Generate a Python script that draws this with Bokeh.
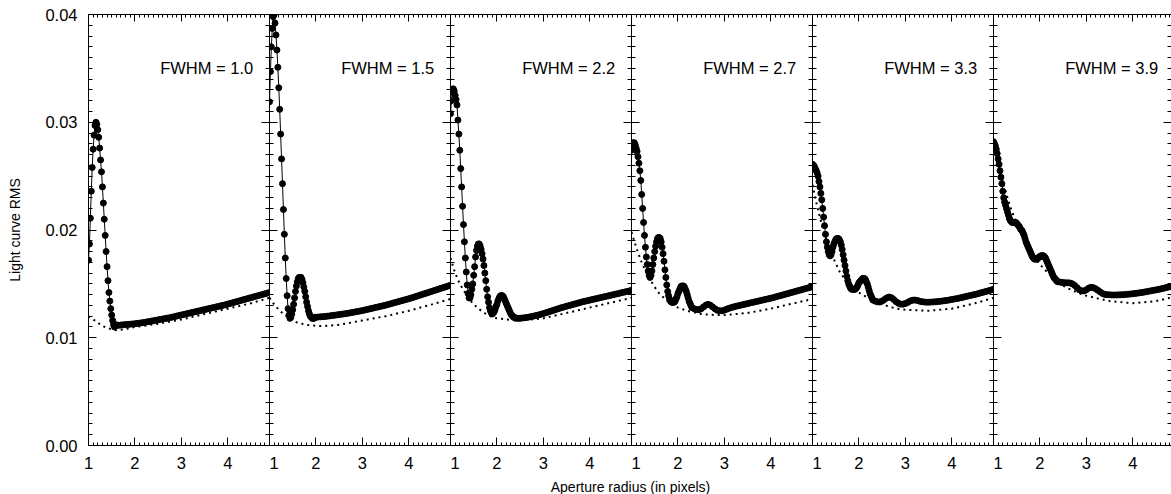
from bokeh.plotting import figure
from bokeh.layouts import gridplot, column
from bokeh.models import (Range1d, LinearAxis, SingleIntervalTicker,
                          NumeralTickFormatter, Label, CustomLabelingPolicy)
from bokeh.embed import file_html
from bokeh.resources import INLINE

# ---------------- data ----------------
fwhm = ["1.0", "1.5", "2.2", "2.7", "3.3", "3.9"]

# measured RMS: fine part sampled every 0.02 from r = 1.00,
# tail part sampled every 0.05 ending at r = 4.90
meas_fine_1 = [.0172, .0187, .0211, .0236, .0258, .0275, .0288, .0297, .0300, .0298,
               .0293, .0286, .0276, .0265, .0254, .0240, .0225, .0210, .0195, .0180,
               .0166, .0153, .0142, .0134, .0127, .0121, .0116, .0112, .0110, .0111,
               .0112]
meas_tail_1 = [.01115, .01118, .01120, .01122, .01124, .01126, .01128,
               .01130, .01133, .01136, .01139, .01142, .01146, .01150, .01154, .01158, .01162,
               .01166, .01170, .01174, .01178, .01182, .01186, .01191, .01196, .01201, .01206,
               .01211, .01216, .01221, .01226, .01231, .01236, .01241, .01246, .01251, .01256,
               .01261, .01266, .01271, .01276, .01281, .01286, .01291, .01296, .01301, .01306,
               .01312, .01318, .01324, .01330, .01336, .01342, .01348, .01354, .01360, .01366,
               .01372, .01378, .01384, .01390, .01396, .01402, .01408, .01414, .01420]

meas_fine_2 = [.0319, .0347, .0370, .0387, .0398, .0400, .0392, .0381, .0367, .0351,
               .0332, .0312, .0289, .0266, .0243, .0219, .0196, .0174, .0155, .0139,
               .0127, .0121, .0118, .0119, .0122, .0126, .0131, .0137, .0143, .0148,
               .0152, .0155, .0156, .0156, .0156, .0154, .0151, .0147, .0143, .0138,
               .0133, .0129, .0125, .0122, .0120, .0119, .0118, .0118, .0118, .0119,
               .0119]
meas_tail_2 = [.01192, .01194, .01196, .01198, .01200, .01203, .01206, .01209, .01212,
               .01215, .01218, .01221, .01224, .01228, .01232, .01236, .01240, .01244, .01248,
               .01252, .01257, .01262, .01267, .01272, .01277, .01282, .01287, .01292, .01297,
               .01302, .01308, .01314, .01320, .01326, .01332, .01338, .01344, .01350, .01356,
               .01362, .01368, .01375, .01382, .01389, .01396, .01403, .01410, .01417, .01424,
               .01431, .01438, .01445, .01452, .01459, .01466, .01473, .01480, .01487]

meas_fine_3 = [.0308, .0320, .0328, .0331, .0329, .0325, .0321, .0316, .0302, .0289,
               .0274, .0257, .0240, .0222, .0205, .0189, .0174, .0161, .0149, .0141,
               .0137, .0137, .0140, .0145, .0150, .0158, .0166, .0175, .0181, .0185,
               .0187, .0187, .0185, .0182, .0178, .0173, .0167, .0160, .0153, .0145,
               .0138, .0133, .0128, .0125, .0123, .0122, .0123, .0124, .0126, .0129,
               .0131, .0134, .0136, .0138, .0139, .0139, .0139, .0138, .0136, .0134,
               .0132, .0130, .0128, .0126, .0124, .0122, .0121, .0120, .0119, .0119,
               .0118]
meas_tail_3 = [.01180, .01181, .01183, .01186, .01189, .01193, .01197, .01202, .01207, .01212, .01218,
               .01224, .01231, .01238, .01245, .01252, .01259, .01266, .01273, .01280, .01286,
               .01292, .01298, .01304, .01310, .01316, .01322, .01328, .01334, .01339, .01344,
               .01349, .01354, .01359, .01364, .01369, .01374, .01379, .01384, .01389, .01394,
               .01399, .01404, .01409, .01414, .01419, .01424, .01429, .01434, .01440]

meas_fine_4 = [.0274, .0279, .0281, .0281, .0279, .0276, .0273, .0268, .0262, .0255,
               .0246, .0233, .0220, .0207, .0195, .0184, .0175, .0168, .0162, .0158,
               .0156, .0158, .0162, .0168, .0174, .0180, .0185, .0189, .0192, .0193,
               .0193, .0192, .0189, .0184, .0178, .0171, .0163, .0156, .0149, .0143,
               .0139, .0136, .0134, .0133, .0133, .0133, .0133, .0134, .0136, .0138,
               .0141, .0143, .0145, .0147, .0148, .0148, .0148, .0147, .0145, .0143,
               .0140, .0137, .0134, .0132, .0130, .0128]
meas_tail_4 = [.01270, .01262, .01260, .01268, .01285, .01302, .01310, .01302, .01285, .01268,
               .01255, .01250, .01250,
               .01256, .01265, .01273, .01280, .01286, .01292, .01297, .01302, .01307, .01312,
               .01317, .01322, .01327, .01332, .01337, .01342, .01347, .01352, .01357, .01362,
               .01367, .01372, .01378, .01384, .01390, .01396, .01402, .01408, .01414, .01420,
               .01426, .01432, .01438, .01444, .01450, .01456, .01462, .01468, .01475]

meas_fine_5 = [.0261, .0260, .0259, .0257, .0255, .0253, .0250, .0245, .0240, .0234,
               .0228, .0220, .0212, .0204, .0196, .0189, .0184, .0180, .0177, .0176,
               .0177, .0180, .0184, .0187, .0189, .0191, .0192, .0192, .0192, .0191,
               .0189, .0186, .0182, .0177, .0172, .0167, .0162, .0157, .0153, .0150,
               .0148, .0146, .0145, .0145, .0145, .0145, .0145, .0146, .0147, .0149,
               .0151, .0152, .0153, .0154, .0155, .0155, .0155, .0154, .0152, .0150,
               .0147, .0144, .0141, .0139, .0137, .0135]
meas_tail_5 = [.01340, .01333, .01332, .01340, .01355, .01370, .01378, .01372, .01355, .01335,
               .01320, .01312, .01312,
               .01318, .01328, .01340, .01348, .01350, .01347, .01340, .01335, .01332, .01330,
               .01330, .01331, .01332, .01334, .01336, .01338, .01341, .01344, .01347, .01351,
               .01355, .01359, .01363, .01367, .01372, .01377, .01382, .01387, .01392, .01397,
               .01402, .01407, .01413, .01419, .01425, .01431, .01437, .01443, .01450]

meas_fine_6 = [.0282, .0280, .0278, .0275, .0271, .0266, .0261, .0255, .0249, .0243,
               .0236, .0230, .0226, .0223, .0220, .0217, .0214, .0211, .0209, .0208,
               .0207, .0207, .0207, .0207, .0207, .0206, .0205, .0204, .0203, .0201,
               .0200, .0199, .0197, .0195, .0192, .0189, .0187, .0185, .0183, .0181,
               .0179, .0177, .0175, .0174, .0173, .0173, .0173, .0173, .0174, .0175,
               .0175, .0176, .0176, .0176, .0176, .0175, .0174, .0172, .0170, .0168,
               .0166, .0164, .0162, .0160, .0158, .0156, .0155, .0154, .0153, .0152,
               .0152]
meas_tail_6 = [.01515, .01512, .01510, .01510, .01508, .01500, .01485, .01465, .01445, .01435, .01435,
               .01445, .01460, .01468, .01465, .01455, .01440, .01425, .01410, .01402, .01400,
               .01398, .01397, .01397, .01397, .01398, .01399, .01400, .01402, .01404, .01406,
               .01408, .01411, .01414, .01417, .01420, .01424, .01428, .01432, .01436, .01440,
               .01444, .01448, .01453, .01458, .01463, .01468, .01473, .01478, .01483]

# model RMS (dotted curves)
model_r_1 = [1.0, 1.1, 1.2, 1.3, 1.4, 1.5, 1.6, 1.8, 2.0, 2.5, 3.0, 3.5, 4.0, 4.5, 4.9]
model_v_1 = [.0120, .0117, .0114, .0111, .0109, .0108, .0107, .0108, .0110, .0113, .0117, .0122, .0127, .0132, .0137]
model_r_2 = [1.0, 1.1, 1.2, 1.3, 1.4, 1.5, 1.6, 1.8, 2.0, 2.2, 2.5, 3.0, 3.5, 4.0, 4.5, 4.9]
model_v_2 = [.0137, .0131, .0126, .0122, .0119, .0116, .0114, .0112, .0111, .0111, .0112, .0116, .0120, .0125, .0131, .0136]
model_r_3 = [1.0, 1.1, 1.2, 1.3, 1.4, 1.5, 1.6, 1.8, 2.0, 2.2, 2.5, 3.0, 3.5, 4.0, 4.5, 4.9]
model_v_3 = [.0174, .0160, .0150, .0143, .0136, .0131, .0127, .0121, .0118, .0117, .0116, .0118, .0123, .0128, .0133, .0137]
model_r_4 = [1.0, 1.1, 1.2, 1.3, 1.4, 1.5, 1.6, 1.8, 2.0, 2.2, 2.5, 2.8, 3.0, 3.5, 4.0, 4.5, 4.9]
model_v_4 = [.0198, .0184, .0172, .0162, .0154, .0147, .0141, .0133, .0128, .0125, .0122, .0121, .0121, .0123, .0127, .0132, .0136]
model_r_5 = [1.0, 1.1, 1.2, 1.3, 1.4, 1.5, 1.6, 1.8, 2.0, 2.2, 2.5, 2.8, 3.0, 3.5, 4.0, 4.5, 4.9]
model_v_5 = [.0242, .0222, .0205, .0191, .0179, .0169, .0160, .0149, .0142, .0137, .0131, .0127, .0126, .0125, .0127, .0132, .0137]
model_r_6 = [1.0, 1.1, 1.2, 1.3, 1.4, 1.5, 1.6, 1.7, 1.8, 2.0, 2.2, 2.4, 2.6, 2.8, 3.0, 3.5, 4.0, 4.5, 4.9]
model_v_6 = [.0280, .0262, .0245, .0230, .0217, .0206, .0197, .0188, .0180, .0168, .0159, .0151, .0146, .0142, .0139, .0134, .0132, .0134, .0138]

panels = [
    (meas_fine_1, meas_tail_1, model_r_1, model_v_1),
    (meas_fine_2, meas_tail_2, model_r_2, model_v_2),
    (meas_fine_3, meas_tail_3, model_r_3, model_v_3),
    (meas_fine_4, meas_tail_4, model_r_4, model_v_4),
    (meas_fine_5, meas_tail_5, model_r_5, model_v_5),
    (meas_fine_6, meas_tail_6, model_r_6, model_v_6),
]

# ---------------- layout / style ----------------
FONT = "Liberation Sans"
TICK_FS = "16.5px"
LEFT = 88
TOP = 14
FRAME_H = 431
BOTTOM = 33
PANEL_W = 181
TOTAL_W = 1171
LAST_W = TOTAL_W - LEFT - 5 * PANEL_W
UNITS_PER_PX = 3.9 / PANEL_W

HIDE_LABELS = """
const out = indices
try {
  for (const i of Array.from(indices)) { out.unset(i) }
} catch (e) {}
return out
"""


def style_axis(ax, labels, major_in, minor_in):
    ax.axis_line_color = "black"
    ax.axis_line_width = 1
    ax.major_tick_line_color = "black"
    ax.minor_tick_line_color = "black"
    ax.major_tick_out = 0
    ax.minor_tick_out = 0
    ax.major_tick_in = major_in
    ax.minor_tick_in = minor_in
    if labels:
        ax.major_label_text_font = FONT
        ax.major_label_text_font_size = TICK_FS
        ax.major_label_text_color = "black"
    else:
        ax.major_label_text_font_size = "0px"
        ax.major_label_standoff = 0
        ax.major_label_policy = CustomLabelingPolicy(code=HIDE_LABELS)


figs = []
for k, (fine, tail, mr, mv) in enumerate(panels):
    first = k == 0
    last = k == 5
    fw = LAST_W if last else PANEL_W
    p = figure(width=fw + (LEFT if first else 0), height=TOP + FRAME_H + BOTTOM,
               x_range=Range1d(1, 1 + fw * UNITS_PER_PX), y_range=Range1d(0, 0.04),
               toolbar_location=None, output_backend="svg",
               x_axis_location=None, y_axis_location=None,
               min_border_left=LEFT if first else 0, min_border_right=0,
               min_border_top=TOP, min_border_bottom=BOTTOM)
    p.outline_line_color = None
    p.background_fill_color = "white"
    p.border_fill_color = "white"
    p.xgrid.grid_line_color = None
    p.ygrid.grid_line_color = None

    # axes
    bottom = LinearAxis(ticker=SingleIntervalTicker(interval=1, num_minor_ticks=10))
    style_axis(bottom, True, 8, 3)
    bottom.major_label_standoff = 11
    p.add_layout(bottom, "below")

    top = LinearAxis(ticker=SingleIntervalTicker(interval=1, num_minor_ticks=10))
    style_axis(top, False, 7, 3)
    p.add_layout(top, "above")

    left = LinearAxis(ticker=SingleIntervalTicker(interval=0.01, num_minor_ticks=10),
                      formatter=NumeralTickFormatter(format="0.00"))
    style_axis(left, first, 8, 4)
    if first:
        left.major_label_standoff = 11
        left.axis_label = "Light curve RMS"
        left.axis_label_text_font = FONT
        left.axis_label_text_font_size = "14px"
        left.axis_label_text_font_style = "normal"
        left.axis_label_text_color = "black"
        left.axis_label_standoff = 19
    p.add_layout(left, "left")

    right = LinearAxis(ticker=SingleIntervalTicker(interval=0.01, num_minor_ticks=10))
    style_axis(right, False, 8, 4)
    p.add_layout(right, "right")

    # data
    r_fine = [round(1.0 + 0.02 * i, 2) for i in range(len(fine))]
    r_tail = [round(4.90 - 0.05 * (len(tail) - 1 - j), 2) for j in range(len(tail))]
    r_meas = r_fine + r_tail
    v_meas = fine + tail

    p.line(mr, mv, line_width=2, line_dash="2 4", color="black", line_cap="butt")
    p.line(r_meas, v_meas, line_width=1, color="black")
    p.scatter(r_meas, v_meas, size=6, color="black")

    p.add_layout(Label(x=4.55, y=0.035, text="FWHM = " + fwhm[k],
                       text_align="right", text_baseline="middle",
                       text_font=FONT, text_font_size=TICK_FS, text_color="black"))
    figs.append(p)

grid = gridplot([figs], toolbar_location=None)

LAB_H = 494 - (TOP + FRAME_H + BOTTOM)
lab = figure(width=TOTAL_W, height=LAB_H, x_range=Range1d(0, 1), y_range=Range1d(0, 1),
             toolbar_location=None, output_backend="svg",
             x_axis_location=None, y_axis_location=None, min_border=0)
lab.outline_line_color = None
lab.xgrid.grid_line_color = None
lab.ygrid.grid_line_color = None
lab.add_layout(Label(x=630, y=LAB_H / 2, x_units="screen", y_units="screen",
                     text="Aperture radius (in pixels)", text_align="center",
                     text_baseline="middle", text_font=FONT, text_font_size="14px",
                     text_color="black"))

layout = column(grid, lab)
open("out.html", "w").write(file_html(layout, INLINE))
